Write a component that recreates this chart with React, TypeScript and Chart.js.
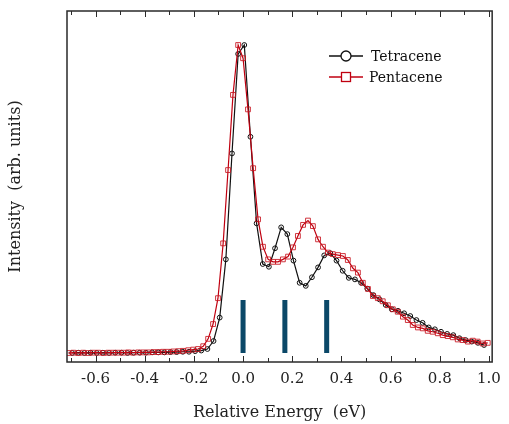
import { useEffect, useRef } from "react";
import { Chart, registerables } from "chart.js";

Chart.register(...registerables);

const seriesNames = ["Tetracene", "Pentacene"];

const tetraceneEnergy = [
  -0.695, -0.67, -0.645, -0.62, -0.595, -0.57, -0.545, -0.52, -0.495, -0.47,
  -0.445, -0.42, -0.395, -0.37, -0.345, -0.32, -0.295, -0.27, -0.245, -0.22,
  -0.195, -0.17, -0.145, -0.12, -0.095, -0.07, -0.045, -0.02, 0.005, 0.03,
  0.055, 0.08, 0.105, 0.13, 0.155, 0.18, 0.205, 0.23, 0.255, 0.28,
  0.305, 0.33, 0.355, 0.38, 0.405, 0.43, 0.455, 0.48, 0.505, 0.53,
  0.555, 0.58, 0.605, 0.63, 0.655, 0.68, 0.705, 0.73, 0.755, 0.78,
  0.805, 0.83, 0.855, 0.88, 0.905, 0.93, 0.955, 0.98,
];
const tetraceneIntensity = [
  0.0, 0.001, 0.0, 0.001, 0.0, 0.001, 0.0, 0.001, 0.001, 0.0,
  0.001, 0.001, 0.001, 0.002, 0.002, 0.002, 0.003, 0.003, 0.004, 0.004,
  0.006, 0.008, 0.013, 0.039, 0.115, 0.304, 0.648, 0.971, 1.0, 0.702,
  0.421, 0.289, 0.28, 0.34, 0.408, 0.386, 0.3, 0.228, 0.218, 0.246,
  0.278, 0.317, 0.324, 0.3, 0.267, 0.244, 0.239, 0.228, 0.209, 0.188,
  0.174, 0.156, 0.142, 0.137, 0.129, 0.12, 0.107, 0.098, 0.083, 0.077,
  0.069, 0.062, 0.058, 0.048, 0.042, 0.037, 0.033, 0.026,
];

const pentaceneEnergy = [
  -0.711, -0.69, -0.67, -0.65, -0.629, -0.609, -0.589, -0.568, -0.548, -0.528,
  -0.508, -0.487, -0.467, -0.447, -0.426, -0.406, -0.386, -0.365,
  -0.345, -0.325, -0.305, -0.284, -0.264, -0.244, -0.223, -0.203,
  -0.183, -0.162, -0.142, -0.122, -0.102, -0.081, -0.061, -0.041, -0.02,
  0.0, 0.02, 0.041, 0.061, 0.081, 0.102, 0.122, 0.142, 0.162, 0.183,
  0.203, 0.223, 0.244, 0.264, 0.284, 0.305, 0.325, 0.345, 0.365, 0.386,
  0.406, 0.426, 0.447, 0.467, 0.487, 0.508, 0.528, 0.548, 0.568, 0.589,
  0.609, 0.629, 0.65, 0.67, 0.69, 0.711, 0.731, 0.751, 0.771, 0.792,
  0.812, 0.832, 0.853, 0.873, 0.893, 0.914, 0.934, 0.954, 0.974, 0.995,
];
const pentaceneIntensity = [
  0.0, 0.001, 0.0, 0.001, 0.0, 0.001, 0.001, 0.0, 0.001, 0.001,
  0.001, 0.001, 0.002, 0.001, 0.002, 0.002, 0.002, 0.003,
  0.003, 0.004, 0.004, 0.005, 0.006, 0.007, 0.009, 0.011,
  0.013, 0.022, 0.046, 0.094, 0.178, 0.356, 0.594, 0.838, 1.0,
  0.957, 0.791, 0.6, 0.434, 0.345, 0.304, 0.296, 0.296, 0.304, 0.313,
  0.343, 0.38, 0.416, 0.43, 0.412, 0.369, 0.345, 0.326, 0.321, 0.318,
  0.315, 0.302, 0.275, 0.261, 0.228, 0.208, 0.185, 0.178, 0.168, 0.155,
  0.142, 0.134, 0.118, 0.107, 0.091, 0.083, 0.08, 0.072, 0.069, 0.064,
  0.058, 0.055, 0.051, 0.044, 0.042, 0.037, 0.04, 0.037, 0.031, 0.033,
];

const stickEnergy = [0.0, 0.17, 0.34];
const stickHeight = [0.172, 0.172, 0.172];

const xAxisTitle = "Relative Energy  (eV)";
const yAxisTitle = "Intensity  (arb. units)";

const SERIF = "'DejaVu Serif', serif";
const BLACK = "#111111";
const RED = "#c00010";
const STICK = "#0b4868";

const decorPlugin = {
  id: "decor",
  afterDraw(chart: any) {
    const { ctx, chartArea } = chart;
    const { left, right, top, bottom } = chartArea;
    const xs = chart.scales.x;
    ctx.save();
    ctx.strokeStyle = "#2a2a2a";
    ctx.lineWidth = 1;
    xs.ticks.forEach((t: any) => {
      const px = Math.round(xs.getPixelForValue(t.value)) + 0.5;
      const major = Math.abs(Math.round(t.value * 10)) % 2 === 0;
      const len = major ? 6 : 4;
      ctx.beginPath();
      ctx.moveTo(px, bottom);
      ctx.lineTo(px, bottom - len);
      ctx.moveTo(px, top);
      ctx.lineTo(px, top + len);
      ctx.stroke();
    });
    ctx.lineWidth = 1.5;
    ctx.strokeRect(left, top, right - left, bottom - top);

    // legend
    const lx0 = left + 262;
    const lx1 = left + 296;
    const mx = left + 279;
    const tx = left + 302;
    const rows = [top + 45, top + 66];
    ctx.font = `14px ${SERIF}`;
    ctx.textBaseline = "middle";
    ctx.textAlign = "left";
    // Tetracene
    ctx.strokeStyle = BLACK;
    ctx.lineWidth = 1.3;
    ctx.beginPath();
    ctx.moveTo(lx0, rows[0]);
    ctx.lineTo(lx1, rows[0]);
    ctx.stroke();
    ctx.fillStyle = "#ffffff";
    ctx.beginPath();
    ctx.arc(mx, rows[0], 5, 0, Math.PI * 2);
    ctx.fill();
    ctx.stroke();
    ctx.fillStyle = "#111";
    ctx.fillText(seriesNames[0], tx + 2, rows[0] + 1);
    // Pentacene
    ctx.strokeStyle = RED;
    ctx.beginPath();
    ctx.moveTo(lx0, rows[1]);
    ctx.lineTo(lx1, rows[1]);
    ctx.stroke();
    ctx.fillStyle = "#ffffff";
    ctx.fillRect(mx - 4.5, rows[1] - 4.5, 9, 9);
    ctx.strokeRect(mx - 4.5, rows[1] - 4.5, 9, 9);
    ctx.fillStyle = "#111";
    ctx.fillText(seriesNames[1], tx, rows[1] + 1);
    ctx.restore();
  },
};

export default function App() {
  const ref = useRef<HTMLCanvasElement | null>(null);
  useEffect(() => {
    if (!ref.current) return;
    const stickSets = stickEnergy.map((e, i) => ({
      label: "stick" + i,
      data: [
        { x: e, y: 0 },
        { x: e, y: stickHeight[i] },
      ],
      borderColor: STICK,
      borderWidth: 5,
      borderCapStyle: "butt",
      pointRadius: 0,
      order: 2,
    }));
    const chart = new Chart(ref.current, {
      type: "line",
      data: {
        datasets: [
          {
            label: seriesNames[1],
            data: pentaceneEnergy.map((x, i) => ({ x, y: pentaceneIntensity[i] })),
            borderColor: RED,
            borderWidth: 1.2,
            pointStyle: "rect",
            pointRadius: 3.4,
            pointBorderWidth: 1,
            pointBorderColor: "rgba(200,20,30,0.85)",
            pointBackgroundColor: "rgba(0,0,0,0)",
            tension: 0,
            order: 0,
          },
          {
            label: seriesNames[0],
            data: tetraceneEnergy.map((x, i) => ({ x, y: tetraceneIntensity[i] })),
            borderColor: BLACK,
            borderWidth: 1.2,
            pointStyle: "circle",
            pointRadius: 2.4,
            pointBorderWidth: 1,
            pointBorderColor: BLACK,
            pointBackgroundColor: "rgba(0,0,0,0)",
            tension: 0,
            order: 1,
          },
          ...(stickSets as any[]),
        ],
      },
      options: {
        animation: false,
        responsive: false,
        maintainAspectRatio: false,
        layout: { padding: { top: 11, right: 14, left: 0, bottom: 0 } },
        plugins: {
          legend: { display: false },
          tooltip: { enabled: false },
        },
        scales: {
          x: {
            type: "linear",
            min: -0.716,
            max: 1.013,
            afterFit: (s: any) => {
              s.height = 62;
            },
            grid: { display: false, drawTicks: false },
            border: { display: false },
            ticks: {
              stepSize: 0.1,
              includeBounds: false,
              autoSkip: false,
              maxRotation: 0,
              minRotation: 0,
              padding: 8,
              color: "#222",
              font: { family: SERIF, size: 15 },
              callback: (v: any) => {
                const n = Math.round(Number(v) * 10);
                return n % 2 === 0 ? (n / 10).toFixed(1) : "";
              },
            },
            title: {
              display: true,
              text: xAxisTitle,
              color: "#222",
              font: { family: SERIF, size: 16 },
              padding: { top: 0, bottom: 1.5 },
            },
          },
          y: {
            type: "linear",
            min: -0.0292,
            max: 1.1104,
            afterFit: (s: any) => {
              s.width = 67;
            },
            grid: { display: false, drawTicks: false },
            border: { display: false },
            ticks: { display: false },
            title: {
              display: true,
              text: yAxisTitle,
              color: "#222",
              font: { family: SERIF, size: 16 },
              padding: { top: 6, bottom: 0 },
            },
          },
        },
      },
      plugins: [decorPlugin],
    } as any);
    return () => chart.destroy();
  }, []);
  return (
    <div style={{ position: "absolute", left: 0, top: 0, width: 509, height: 424, background: "#fff" }}>
      <canvas ref={ref} width={509} height={424} style={{ width: 509, height: 424 }} />
    </div>
  );
}
